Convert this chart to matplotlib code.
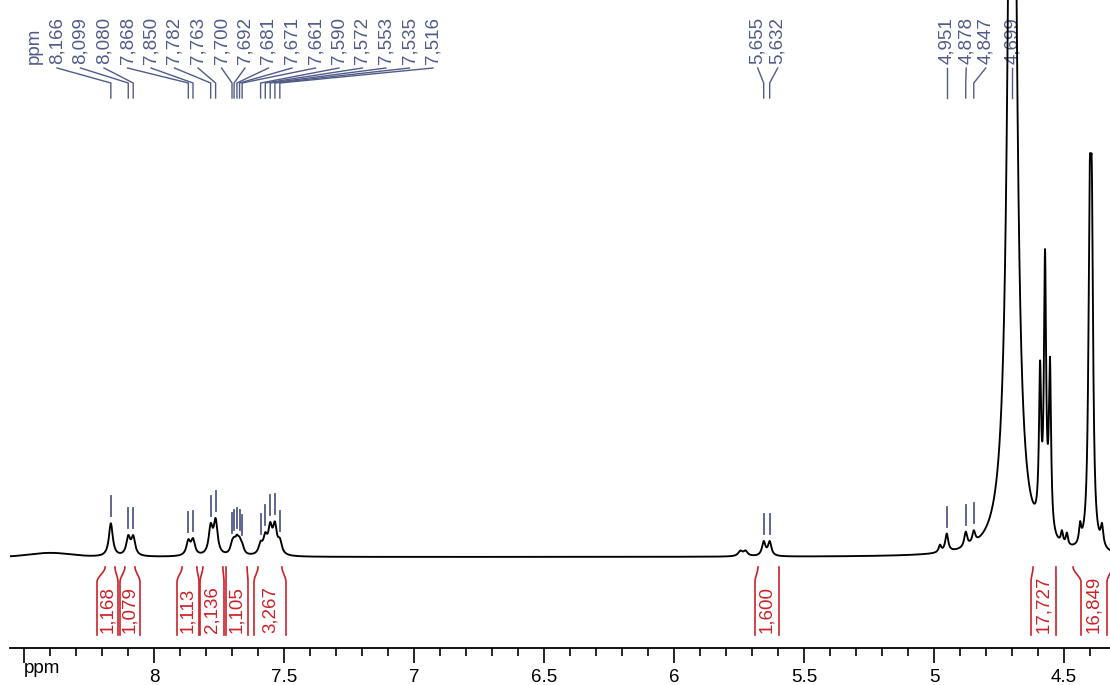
import numpy as np
import matplotlib
matplotlib.use("Agg")
import matplotlib.pyplot as plt
from matplotlib.ticker import FixedLocator, MultipleLocator

plt.rcParams['font.family'] = ['Liberation Sans', 'DejaVu Sans']

# ---------------- data ----------------
# resolved lines of the spectrum: position (ppm), height (intensity units), half width (ppm)
peak_ppm = [8.166, 8.099, 8.080, 7.868, 7.850, 7.782, 7.763,
            7.700, 7.692, 7.681, 7.671, 7.661,
            7.590, 7.572, 7.553, 7.535, 7.516,
            5.745, 5.725, 5.655, 5.632,
            4.977, 4.951, 4.878, 4.847,
            4.699,
            4.592, 4.573, 4.554,
            4.508, 4.489, 4.438,
            4.401, 4.393, 4.354]
peak_height = [33, 18, 18, 14, 15, 27, 33,
               8, 9, 12, 10, 7,
               10, 16, 25, 27, 12,
               5, 5, 14, 14,
               7, 18, 15, 12,
               1150,
               150, 268, 165,
               12, 12, 18,
               285, 285, 20]
peak_hwhm = [0.009, 0.009, 0.009, 0.009, 0.009, 0.009, 0.009,
             0.008, 0.008, 0.008, 0.008, 0.008,
             0.009, 0.009, 0.009, 0.009, 0.009,
             0.010, 0.010, 0.008, 0.008,
             0.006, 0.007, 0.007, 0.007,
             0.0162,
             0.005, 0.005, 0.005,
             0.005, 0.005, 0.005,
             0.006, 0.006, 0.006]

# broad humps of the baseline
hump_ppm = [8.40]
hump_height = [4]
hump_width = [0.08]

# picked peaks (labels above the spectrum)
label_ppm = [8.166, 8.099, 8.080, 7.868, 7.850, 7.782, 7.763, 7.700, 7.692,
             7.681, 7.671, 7.661, 7.590, 7.572, 7.553, 7.535, 7.516,
             5.655, 5.632,
             4.951, 4.878, 4.847, 4.699]
label_text = ['8,166', '8,099', '8,080', '7,868', '7,850', '7,782', '7,763', '7,700', '7,692',
              '7,681', '7,671', '7,661', '7,590', '7,572', '7,553', '7,535', '7,516',
              '5,655', '5,632',
              '4,951', '4,878', '4,847', '4,699']

# integrals: region (ppm) and value
integral_from = [8.188, 8.112, 7.892, 7.812, 7.723, 7.600, 5.677, 4.619, 4.465]
integral_to = [8.150, 8.073, 7.835, 7.735, 7.642, 7.508, 5.596, 4.531, 4.315]
integral_value = ['1,168', '1,079', '1,113', '2,136', '1,105', '3,267', '1,600', '17,727', '16,849']

# axis ticks
major_ticks = [8.5, 8.0, 7.5, 7.0, 6.5, 6.0, 5.5, 5.0, 4.5]
major_labels = ['', '8', '7.5', '7', '6.5', '6', '5.5', '5', '4.5']

# ---------------- layout helpers ----------------
PX0, PPM0, PX_PER_PPM = 154.0, 8.0, 260.0


def px2ppm(px):
    return PPM0 - (np.asarray(px, dtype=float) - PX0) / PX_PER_PPM


def ppm2px(p):
    return PX0 + (PPM0 - np.asarray(p, dtype=float)) * PX_PER_PPM


# label x positions (pixels) for the three label groups
label_px = list(57 + 23.5 * np.arange(17))
c56 = ppm2px(np.mean([5.655, 5.632]))
label_px += [c56 - 9, c56 + 11]
grp = ppm2px([4.951, 4.878, 4.847, 4.699])
pos = []
for g in grp:
    if pos and g < pos[-1] + 19.5:
        g = pos[-1] + 19.5
    pos.append(g)
label_px += pos

# integral bracket bottoms (pixels)
bracket_left_px = [97, 120, 177, 200, 226, 254, 755, 1031, 1081]
bracket_right_px = [118, 140, 199, 224, 248, 286, 779, 1056, 1107]

BLUE = '#515b88'
RED = '#cc2229'

# ---------------- spectrum ----------------
x = np.linspace(8.60, 4.28, 16000)
y = np.zeros_like(x)
for p, h, w in zip(peak_ppm, peak_height, peak_hwhm):
    y += h * w ** 2 / (w ** 2 + (x - p) ** 2)
for p, h, w in zip(hump_ppm, hump_height, hump_width):
    y += h * np.exp(-0.5 * ((x - p) / w) ** 2)

fig = plt.figure(figsize=(11.1, 6.85), dpi=100)
ax = fig.add_axes([10 / 1110, 37 / 685, 1100 / 1110, 648 / 685])
ax.set_xlim(float(px2ppm(10)), float(px2ppm(1110)))
ax.set_ylim(-91, 557)

for s in ['top', 'left', 'right']:
    ax.spines[s].set_visible(False)
ax.spines['bottom'].set_linewidth(1.3)
ax.yaxis.set_visible(False)
ax.xaxis.set_major_locator(FixedLocator(major_ticks))
ax.set_xticklabels(major_labels)
ax.xaxis.set_minor_locator(MultipleLocator(0.1))
ax.tick_params(axis='x', which='major', length=10.8, width=1.2, labelsize=13.5, pad=4.5)
ax.tick_params(axis='x', which='minor', length=5.4, width=1.2)
ax.text(8.5, -116, 'ppm', fontsize=13.5, ha='left', va='baseline', clip_on=False)

ax.plot(x, y, color='black', lw=1.35, zorder=3)

# peak labels
ax.text(float(px2ppm(34)), 493, 'ppm', rotation=90, rotation_mode='anchor',
        ha='left', va='center', fontsize=13.5, color=BLUE)
xr = x[::-1]
yr = y[::-1]
for lp, txt, lpx in zip(label_ppm, label_text, label_px):
    lx = float(px2ppm(lpx))
    ax.text(lx, 493, txt, rotation=90, rotation_mode='anchor', ha='left', va='center',
            fontsize=13.5, color=BLUE, zorder=2)
    ax.plot([lx, lp, lp], [489, 474, 459], color=BLUE, lw=1.0, zorder=2)
    h = np.interp(lp, xr, yr)
    if h < 400:
        ax.plot([lp, lp], [h + 7, h + 27], color=BLUE, lw=1.3, zorder=2)

# integrals
for a, b, bl, br, val in zip(integral_from, integral_to, bracket_left_px,
                             bracket_right_px, integral_value):
    blp = float(px2ppm(bl))
    brp = float(px2ppm(br))
    t = np.linspace(0, 1, 20)
    s = t * t * (3 - 2 * t)
    for top, bot in ((a, blp), (b, brp)):
        xs = np.concatenate([[bot], bot + (top - bot) * s])
        ys = np.concatenate([[-78], -25 + 15 * t])
        ax.plot(xs, ys, color=RED, lw=1.2, clip_on=False)
    ax.text((blp + brp) / 2, -76, val, rotation=90, rotation_mode='anchor', ha='left',
            va='center', fontsize=13.5, color=RED)

fig.savefig('out.png', dpi=100)
